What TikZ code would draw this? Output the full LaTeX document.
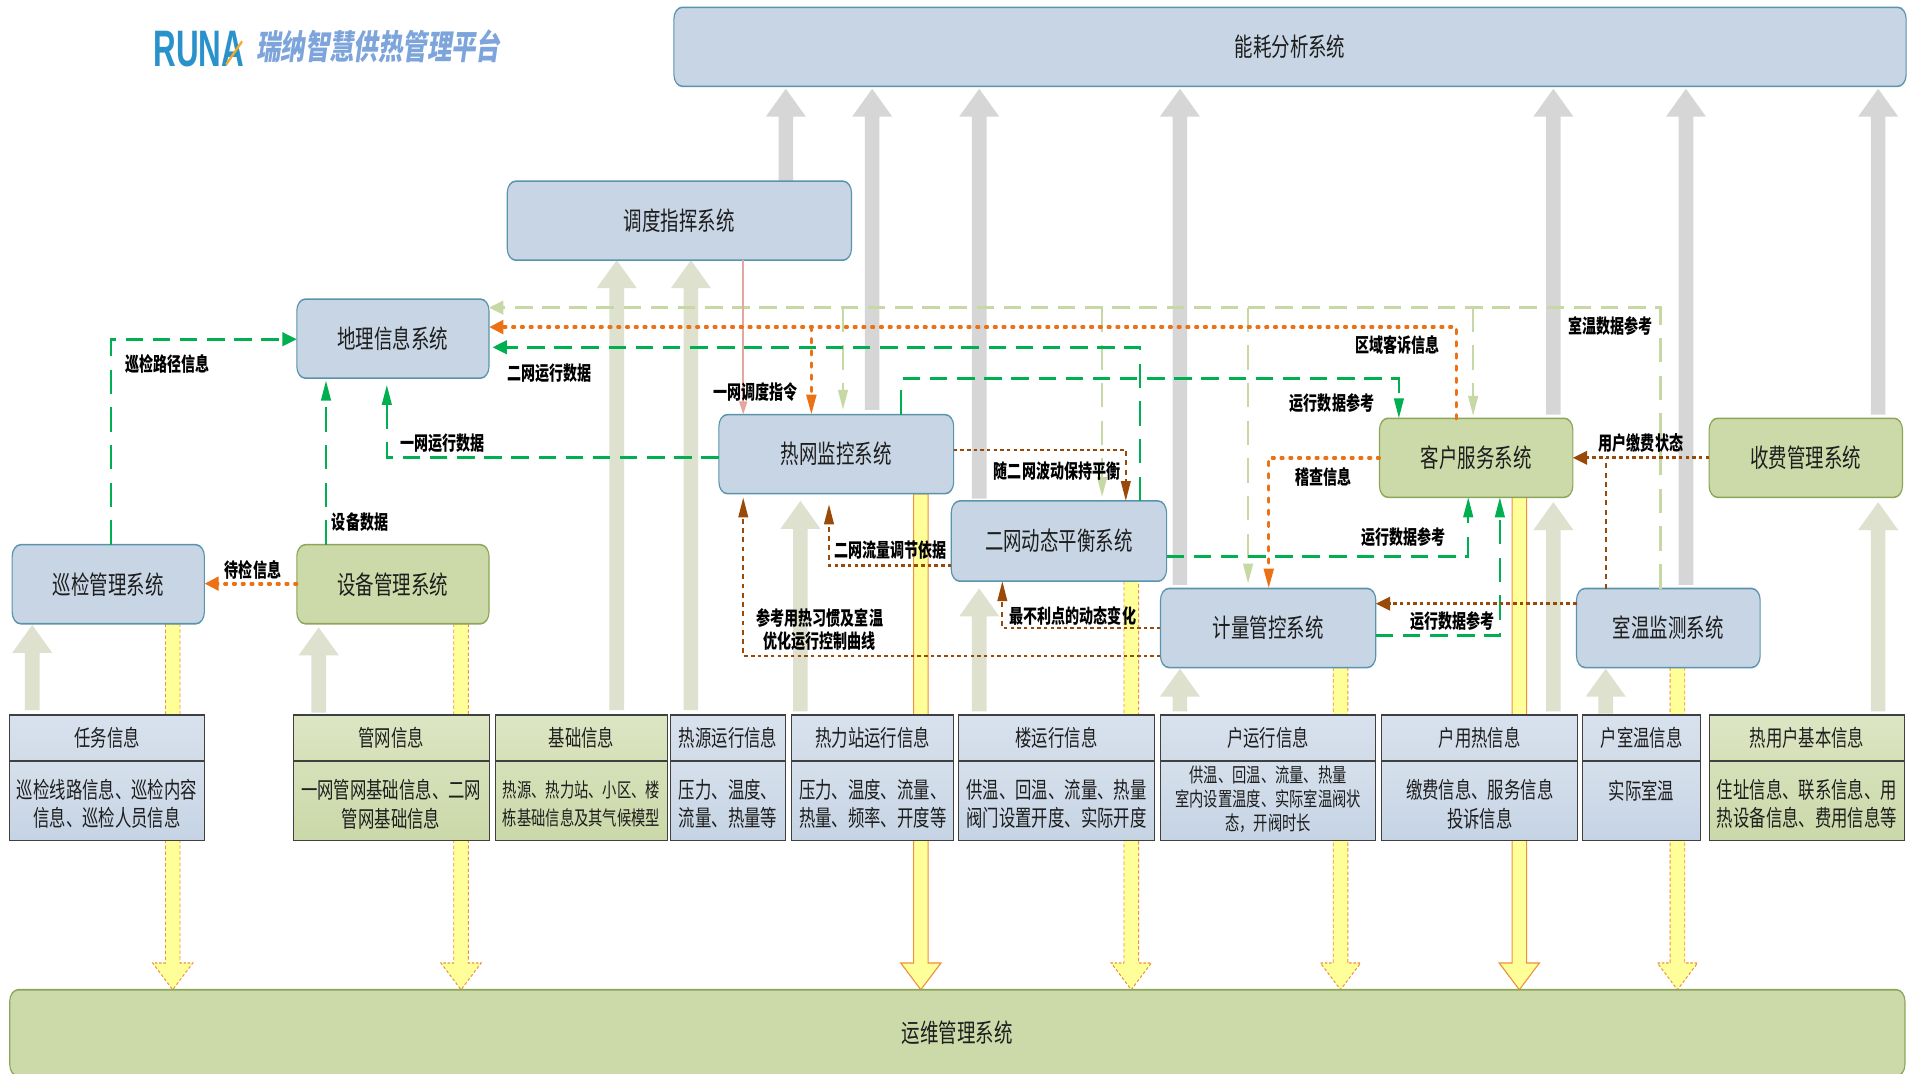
\documentclass[tikz,border=0pt]{standalone}
\usepackage{fontspec}
\setmainfont{Noto Sans CJK SC}
\newfontfamily\titlef[FakeSlant=0.2]{Noto Sans CJK SC}
\newfontfamily\logof{Liberation Sans}
\usetikzlibrary{calc,arrows.meta}
\pgfdeclarelayer{bg}
\pgfsetlayers{bg,main}
\definecolor{txt}{HTML}{1E1E1E}
\definecolor{bluefill}{HTML}{C7D5E5}
\definecolor{blueline}{HTML}{5A94AC}
\definecolor{greenfill}{HTML}{CCDAA9}
\definecolor{greenline}{HTML}{8CA558}
\definecolor{cgreen}{HTML}{00B050}
\definecolor{clight}{HTML}{C6D9A5}
\definecolor{corange}{HTML}{EC7014}
\definecolor{cbrown}{HTML}{9A4A08}
\definecolor{cpink}{HTML}{E6A5A0}
\definecolor{upgray}{HTML}{D6D6D6}
\definecolor{upsage}{HTML}{DDE1CE}
\definecolor{yfill}{HTML}{FFFF99}
\definecolor{yline}{HTML}{F0903A}
\definecolor{logoblue}{HTML}{2A92CB}
\definecolor{logoyellow}{HTML}{F5AA28}
\definecolor{titleblue}{HTML}{7DA5DC}
\tikzset{
  canvasx/.style={transform canvas={xscale=0.72},x=0.0347222cm,y=-0.025cm},
  sysblue/.style={draw=blueline,fill=bluefill,line width=0.9pt,rounded corners=0.24cm,inner sep=0pt,outer sep=0pt,text=txt,font=\fontsize{15}{18}\selectfont},
  sysgreen/.style={draw=greenline,fill=greenfill,line width=0.9pt,rounded corners=0.24cm,inner sep=0pt,outer sep=0pt,text=txt,font=\fontsize{15}{18}\selectfont},
  cellbase/.style={draw=black!75,line width=0.8pt,inner sep=0pt,outer sep=0pt,text=txt,align=center},
  headblue/.style={cellbase,top color=HBt,bottom color=HBb,font=\fontsize{13.3}{16}\selectfont},
  headgreen/.style={cellbase,top color=HGt,bottom color=HGb,font=\fontsize{13.3}{16}\selectfont},
  bodyblue/.style={cellbase,top color=BBt,bottom color=BBb},
  bodygreen/.style={cellbase,top color=BGt,bottom color=BGb},
  bodytext/.style={inner sep=0pt,outer sep=0pt,text=txt,align=center,yshift=-2.1pt,font=\fontsize{13.3}{16.4}\selectfont},
  smallbody/.style={font=\fontsize{11.6}{16.4}\selectfont},
  tinybody/.style={yshift=2.8pt,font=\fontsize{11.6}{13.9}\selectfont},
  lbl/.style={inner sep=0pt,outer sep=0pt,yshift=-0.5pt,text=black,align=center,font=\fontsize{11.4}{13}\selectfont\bfseries},
  tipbig/.style={-{Triangle[length=0.41cm,width=0.275cm]}},
  tipsmall/.style={-{Triangle[length=0.27cm,width=0.22cm]}},
  gline/.style={draw=cgreen,line width=1.8pt,dash pattern=on 0.5cm off 0.275cm,tipbig},
  lline/.style={draw=clight,line width=1.8pt,dash pattern=on 0.5cm off 0.275cm},
  oline/.style={draw=corange,line width=2.4pt,line cap=round,dash pattern=on 0.06cm off 0.19cm,tipbig},
  bline/.style={draw=cbrown,line width=1.6pt,dash pattern=on 0.1cm off 0.09cm,tipbig},
  pline/.style={draw=cpink,line width=1.6pt,tipsmall},
  upg/.style={fill=upgray,draw=none},
  ups/.style={fill=upsage,draw=none},
  ydash/.style={fill=yfill,draw=yline,line width=0.7pt,dash pattern=on 0.07cm off 0.05cm},
  ysolid/.style={fill=yfill,draw=yline,line width=0.8pt},
}
\definecolor{HBt}{HTML}{D8E2EE}\definecolor{HBb}{HTML}{D2DCE9}
\definecolor{HGt}{HTML}{DDE6C4}\definecolor{HGb}{HTML}{D6E0B8}
\definecolor{BBt}{HTML}{D6E0EC}\definecolor{BBb}{HTML}{C5D3E4}
\definecolor{BGt}{HTML}{D6E1BA}\definecolor{BGb}{HTML}{CBD8A8}
% name, x1, y1, x2, y2, style, text
\newcommand\sysbox[7]{\node[#6,minimum width={(#4-#2)*0.0347222cm},minimum height={(#5-#3)*0.025cm}] (#1) at ({(#2+#4)/2},{(#3+#5)/2}) {#7};}
% name, x1, x2, style-suffix, head, body, extra body style
\newcommand\infotable[7]{%
  \node[head#4,minimum width={(#3-#2)*0.0347222cm},minimum height={38*0.025cm}] (#1h) at ({(#2+#3)/2},607) {#5};
  \node[body#4,minimum width={(#3-#2)*0.0347222cm},minimum height={65*0.025cm}] (#1) at ({(#2+#3)/2},658.5) {};
  \node[bodytext,#7] (#1t) at (#1.center) {#6};}
% style, x, start anchor, start offset, end anchor, end offset, head direction
\newcommand\barrow[7]{%
  \coordinate (s) at ($(#2,0 |- #3)+(0,#4)$);
  \coordinate (e) at ($(#2,0 |- #5)+(0,#6)$);
  \draw[#1] ($(s)+(-6,0)$) -- ($(e)+(-6,#7)$) -- ($(e)+(-16.5,#7)$) -- (e) -- ($(e)+(16.5,#7)$) -- ($(e)+(6,#7)$) -- ($(s)+(6,0)$) -- cycle;}
\begin{document}
\begin{tikzpicture}
\begin{scope}[canvasx]
% systems
\sysbox{nh}{554}{6}{1567}{71}{sysblue}{能耗分析系统}
\sysbox{dd}{417}{149}{700}{214}{sysblue}{调度指挥系统}
\sysbox{dl}{244}{246}{402}{311}{sysblue}{地理信息系统}
\sysbox{rw}{591}{341}{784}{406}{sysblue}{热网监控系统}
\sysbox{ew}{782}{412}{959}{478}{sysblue}{二网动态平衡系统}
\sysbox{kf}{1134}{344}{1293}{409}{sysgreen}{客户服务系统}
\sysbox{sf}{1405}{344}{1564}{409}{sysgreen}{收费管理系统}
\sysbox{xj}{10}{448}{168}{513}{sysblue}{巡检管理系统}
\sysbox{sb}{244}{448}{402}{513}{sysgreen}{设备管理系统}
\sysbox{jl}{954}{484}{1131}{549}{sysblue}{计量管控系统}
\sysbox{sw}{1296}{484}{1447}{549}{sysblue}{室温监测系统}
\sysbox{yw}{8}{814}{1566}{885}{sysgreen}{\raisebox{1.5pt}{运维管理系统}}
% tables
\infotable{ta}{8}{168}{blue}{任务信息}{巡检线路信息、巡检内容\\信息、巡检人员信息}{}
\infotable{tb}{241}{402}{green}{管网信息}{一网管网基础信息、二网\\管网基础信息}{}
\infotable{tc}{407}{549}{green}{\raisebox{-2pt}{基础信息}}{热源、热力站、小区、楼\\栋基础信息及其气候模型}{smallbody}
\infotable{td}{551}{646}{blue}{热源运行信息}{压力、温度、\\流量、热量等}{}
\infotable{te}{651}{784}{blue}{热力站运行信息}{压力、温度、流量、\\热量、频率、开度等}{}
\infotable{tf}{788}{949}{blue}{楼运行信息}{供温、回温、流量、热量\\阀门设置开度、实际开度}{}
\infotable{tg}{954}{1131}{blue}{户运行信息}{供温、回温、流量、热量\\室内设置温度、实际室温阀状\\态，开阀时长}{tinybody}
\infotable{th}{1136}{1297}{blue}{户用热信息}{缴费信息、服务信息\\投诉信息}{}
\infotable{ti}{1301}{1398}{blue}{户室温信息}{实际室温\\\mbox{}}{}
\infotable{tj}{1405}{1566}{green}{热用户基本信息}{住址信息、联系信息、用\\热设备信息、费用信息等}{}
% logo
\node[inner sep=0pt,text=logoblue,font=\fontsize{30}{32}\selectfont\logof\bfseries] (logo) at (163.5,40) {\scalebox{0.85}[1]{RUNA}};
\draw[draw=logoyellow,line width=1.6pt] (186,53) -- (199,34);
\node[inner sep=0pt,text=titleblue,font=\fontsize{19.8}{22}\selectfont\titlef\bfseries] (title) at (311,38) {瑞纳智慧供热管理平台};
% thin connectors
\coordinate (lt) at (0,253);
\draw[lline,tipbig] (1365,0 |- sw.north) -- (1365,0 |- lt) -- (dl.east |- lt);
\draw[lline,tipbig,shorten >=0.1cm] (693,0 |- lt) -- (693,0 |- rw.north);
\draw[lline,tipbig,shorten >=0.08cm] (906,0 |- lt) -- (906,0 |- ew.north);
\draw[lline,tipbig,shorten >=0.1cm] (1026,0 |- lt) -- (1026,0 |- jl.north);
\draw[lline,tipbig,shorten >=0.05cm] (1211,0 |- lt) -- (1211,0 |- kf.north);
\draw[pline] (611,0 |- dd.south) -- (611,0 |- rw.north);
\coordinate (ot) at (0,269);
\draw[oline] (1197,0 |- kf.north) -- (1197,0 |- ot) -- (dl.east |- ot);
\draw[oline] (667,0 |- ot) -- (667,0 |- rw.north);
\draw[oline] (kf.west |- 0,376.5) -- (1043,376.5) -- (1043,0 |- jl.north);
\draw[oline] (sb.west |- 0,480) -- (xj.east |- 0,480);
\draw[gline] (91,0 |- xj.north) -- (91,279) -- (dl.west |- 0,279);
\draw[gline,shorten >=0.05cm] (268,0 |- sb.north) -- (268,0 |- dl.south);
\draw[gline,shorten >=0.14cm] (rw.west |- 0,376.5) -- (318,376.5) -- (318,0 |- dl.south);
\draw[gline,shorten >=0.1cm] (937,0 |- ew.north) -- (937,285.6) -- (dl.east |- 0,285.6);
\draw[gline] (741,0 |- rw.north) -- (741,311.6) -- (1150,311.6) -- (1150,0 |- kf.north);
\draw[gline] (ew.east |- 0,458) -- (1207,458) -- (1207,0 |- kf.south);
\draw[gline] (jl.east |- 0,523) -- (1233,523) -- (1233,0 |- kf.south);
\draw[bline] (rw.east |- 0,370) -- (925.5,370) -- (925.5,0 |- ew.north);
\draw[bline,shorten >=0.22cm] (ew.west |- 0,465) -- (681.5,465) -- (681.5,0 |- rw.south);
\draw[bline] (jl.west |- 0,516.5) -- (824,516.5) -- (824,0 |- ew.south);
\draw[bline,shorten >=0.08cm] (jl.west |- 0,539.5) -- (611,539.5) -- (611,0 |- rw.south);
\draw[bline] (sw.west |- 0,496.5) -- (jl.east |- 0,496.5);
\draw[bline] (sf.west |- 0,376.5) -- (kf.east |- 0,376.5);
\draw[bline,-] (1320,0 |- sw.north) -- (1320,376.5);
% labels
\node[lbl] (n1) at (138,299) {巡检路径信息};
\node[lbl] (n2) at (452,306) {二网运行数据};
\node[lbl] (n3) at (364,364) {一网运行数据};
\node[lbl] (n4) at (621,322) {一网调度指令};
\node[lbl] (n5) at (296,429) {设备数据};
\node[lbl] (n6) at (208,468) {待检信息};
\node[lbl] (n7) at (1149,283) {区域客诉信息};
\node[lbl] (n8) at (1324,267) {室温数据参考};
\node[lbl] (n9) at (1095,331) {运行数据参考};
\node[lbl] (n10) at (1349,364) {用户缴费状态};
\node[lbl] (n11) at (1088,392) {稽查信息};
\node[lbl] (n12) at (869,387) {随二网波动保持平衡};
\node[lbl] (n13) at (1154,441) {运行数据参考};
\node[lbl] (n14) at (732,452) {二网流量调节依据};
\node[lbl] (n15) at (1194,510) {运行数据参考};
\node[lbl] (n16) at (882,506) {最不利点的动态变化};
\node[lbl,font=\fontsize{11.4}{13.2}\selectfont\bfseries] (n17) at (674,517) {参考用热习惯及室温\\优化运行控制曲线};
\end{scope}
\begin{pgfonlayer}{bg}
\fill[white] (0,0) rectangle (39.2cm,-22.057cm);
\begin{scope}[canvasx]
\barrow{upg}{646}{dd.north}{0}{nh.south}{2}{23}
\barrow{upg}{717}{rw.north}{-4}{nh.south}{2}{23}
\barrow{upg}{805}{ew.north}{-2}{nh.south}{2}{23}
\barrow{upg}{970}{jl.north}{-3}{nh.south}{2}{23}
\barrow{upg}{1277}{kf.north}{-3}{nh.south}{2}{23}
\barrow{upg}{1386}{sw.north}{-3}{nh.south}{2}{23}
\barrow{upg}{1544}{sf.north}{-3}{nh.south}{2}{23}
\barrow{ups}{26.5}{tah.north}{-4}{xj.south}{1}{23}
\barrow{ups}{262}{tbh.north}{-2}{sb.south}{3}{23}
\barrow{ups}{507}{tch.north}{-4}{dd.south}{0}{23}
\barrow{ups}{568}{tdh.north}{-4}{dd.south}{0}{23}
\barrow{ups}{658}{teh.north}{-3}{rw.south}{6}{23}
\barrow{ups}{805}{tfh.north}{-3}{ew.south}{6}{23}
\barrow{ups}{970}{tgh.north}{-3}{jl.south}{1}{23}
\barrow{ups}{1277}{thh.north}{-3}{kf.south}{4}{23}
\barrow{ups}{1320}{tih.north}{-1}{sw.south}{1}{23}
\barrow{ups}{1544}{tjh.north}{-3}{sf.south}{4}{23}
\barrow{ydash}{142}{xj.south}{0}{yw.north}{0}{-22}
\barrow{ydash}{379}{sb.south}{0}{yw.north}{0}{-22}
\barrow{ysolid}{757}{rw.south}{0}{yw.north}{0}{-22}
\barrow{ydash}{930}{ew.south}{0}{yw.north}{0}{-22}
\barrow{ydash}{1102}{jl.south}{0}{yw.north}{0}{-22}
\barrow{ysolid}{1249}{kf.south}{0}{yw.north}{0}{-22}
\barrow{ydash}{1379}{sw.south}{0}{yw.north}{0}{-22}
\end{scope}
\end{pgfonlayer}
\pgfresetboundingbox
\path[use as bounding box] (0,0) rectangle (39.2cm,-22.057cm);
\end{tikzpicture}
\end{document}
